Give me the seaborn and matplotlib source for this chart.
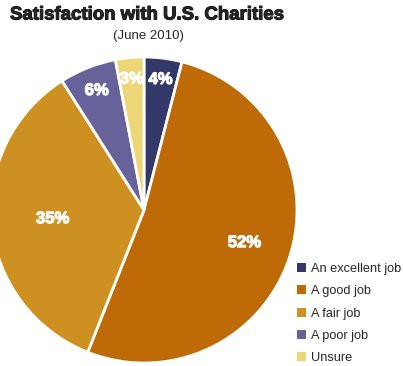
import matplotlib
matplotlib.use("Agg")
import matplotlib.pyplot as plt
import matplotlib.patheffects as pe
import numpy as np
import seaborn as sns

categories = ["An excellent job", "A good job", "A fair job", "A poor job", "Unsure"]
shares = [4, 52, 35, 6, 3]
pct_labels = ["4%", "52%", "35%", "6%", "3%"]
colors = ["#343868", "#BE6A07", "#CF9022", "#67639A", "#EDD676"]
label_dist = [0.86, 0.69, 0.60, 0.84, 0.86]

sns.set_style("white")
plt.rcParams["font.family"] = ["Liberation Sans", "DejaVu Sans"]

W, H = 403, 366
fig = plt.figure(figsize=(W / 100, H / 100), dpi=100)
ax = fig.add_axes([0, 0, 1, 1])

cx, cy, r = 144, H - 210, 153
wedges, _ = ax.pie(shares, colors=sns.color_palette(colors), startangle=90,
                   counterclock=False, center=(cx, cy), radius=r,
                   wedgeprops=dict(edgecolor="white", linewidth=2),
                   frame=True)
ax.set_xlim(0, W)
ax.set_ylim(0, H)
ax.axis("off")

for w, lab, d in zip(wedges, pct_labels, label_dist):
    ang = np.deg2rad((w.theta1 + w.theta2) / 2)
    ax.text(cx + d * r * np.cos(ang), cy + d * r * np.sin(ang), lab,
            ha="center", va="center", color="white", fontsize=12,
            fontweight="bold",
            path_effects=[pe.withStroke(linewidth=0.8, foreground="white")])

fig.text(10 / W, 1 - 15 / H, "Satisfaction with U.S. Charities",
         fontsize=13.4, fontweight="bold", ha="left", va="center",
         path_effects=[pe.withStroke(linewidth=0.7, foreground="black")])
fig.text(148 / W, 1 - 36 / H, "(June 2010)", fontsize=9.5, ha="center",
         va="center")

leg = ax.legend(wedges, categories, loc="upper left",
                bbox_to_anchor=(292 / W, 1 - 258 / H), frameon=False,
                fontsize=9.2, handlelength=0.72, handleheight=0.72,
                handletextpad=0.4, labelspacing=0.80, borderaxespad=0)
for h in leg.legend_handles:
    h.set_edgecolor("none")

fig.savefig("out.png", dpi=100)
